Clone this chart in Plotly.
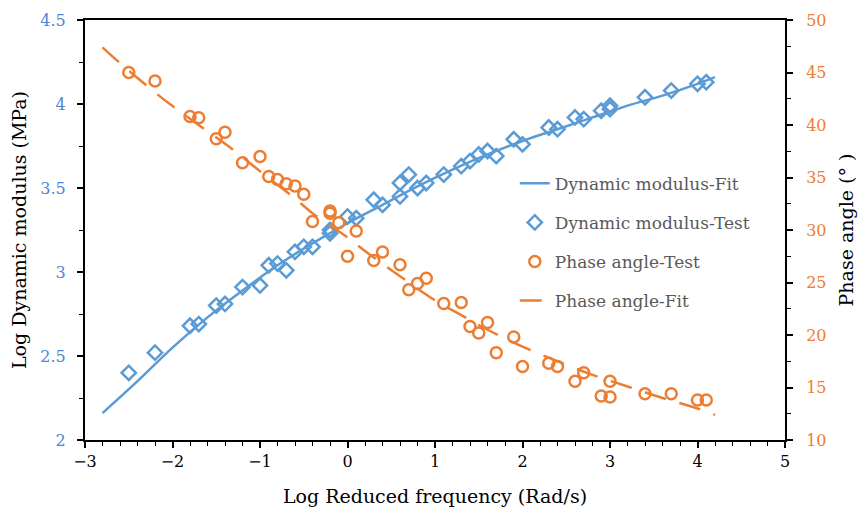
import plotly.graph_objects as go

# ---- data ----
mod_test_x = [-2.5, -2.2, -1.8, -1.7, -1.5, -1.4, -1.2, -1.0, -0.9, -0.8, -0.7, -0.6, -0.5, -0.4,
              -0.2, -0.2, 0.0, 0.1, 0.3, 0.4, 0.6, 0.6, 0.7, 0.8, 0.9, 1.1, 1.3, 1.4, 1.5, 1.6,
              1.7, 1.9, 2.0, 2.3, 2.4, 2.6, 2.7, 2.9, 3.0, 3.0, 3.4, 3.7, 4.0, 4.1]
mod_test_y = [2.40, 2.52, 2.68, 2.69, 2.80, 2.81, 2.91, 2.92, 3.04, 3.05, 3.01, 3.12, 3.15, 3.15,
              3.23, 3.25, 3.33, 3.32, 3.43, 3.40, 3.53, 3.45, 3.58, 3.50, 3.53, 3.58, 3.63, 3.66, 3.70, 3.72,
              3.69, 3.79, 3.76, 3.86, 3.85, 3.92, 3.91, 3.96, 3.99, 3.97, 4.04, 4.08, 4.12, 4.13]

mod_fit_x = [-2.8, -2.4, -2.0, -1.6, -1.2, -0.8, -0.4, 0.0, 0.4, 0.8, 1.2, 1.6, 2.0, 2.4, 2.8, 3.2, 3.6, 4.0, 4.2]
mod_fit_y = [2.16, 2.35, 2.55, 2.73, 2.89, 3.04, 3.17, 3.29, 3.40, 3.51, 3.61, 3.70, 3.78, 3.85, 3.92, 3.99, 4.05, 4.12, 4.16]

pa_test_x = [-2.5, -2.2, -1.8, -1.7, -1.5, -1.4, -1.2, -1.0, -0.9, -0.8, -0.7, -0.6, -0.5, -0.4,
             -0.2, -0.2, -0.1, 0.0, 0.1, 0.3, 0.4, 0.6, 0.7, 0.8, 0.9, 1.1, 1.3, 1.4, 1.5, 1.6,
             1.7, 1.9, 2.0, 2.3, 2.4, 2.6, 2.7, 2.9, 3.0, 3.0, 3.4, 3.7, 4.0, 4.1]
pa_test_y = [45.0, 44.2, 40.8, 40.7, 38.7, 39.3, 36.4, 37.0, 35.1, 34.8, 34.4, 34.2, 33.4, 30.8,
             31.8, 31.6, 30.7, 27.5, 29.9, 27.1, 27.9, 26.7, 24.3, 24.9, 25.4, 23.0, 23.1, 20.8, 20.2, 21.2,
             18.3, 19.8, 17.0, 17.3, 17.0, 15.6, 16.4, 14.2, 14.1, 15.6, 14.4, 14.4, 13.8, 13.8]

pa_fit_x = [-2.8, -2.6, -2.2, -2.0, -1.6, -1.3, -1.0, -0.6, -0.4, 0.0, 0.2, 0.6, 1.0, 1.3, 1.6, 2.0, 2.4, 2.8, 3.2, 3.6, 4.0, 4.2]
pa_fit_y = [47.4, 45.9, 43.1, 41.8, 39.4, 37.6, 35.6, 33.0, 31.6, 29.3, 28.0, 25.6, 23.3, 21.9, 20.5, 18.9, 17.5, 16.2, 15.1, 14.0, 13.0, 12.4]

BLUE = "#5B9BD5"
ORANGE = "#ED7D31"
FONT = "DejaVu Serif"

fig = go.Figure()
fig.add_trace(go.Scatter(x=mod_fit_x, y=mod_fit_y, mode="lines", name="Dynamic modulus-Fit",
                         line=dict(color=BLUE, width=2.5, shape="spline"), legendgroup="a"))
fig.add_trace(go.Scatter(x=mod_test_x, y=mod_test_y, mode="markers", name="Dynamic modulus-Test",
                         marker=dict(symbol="diamond-open", size=11, color=BLUE, line=dict(width=2.5)),
                         legendgroup="b"))
fig.add_trace(go.Scatter(x=pa_test_x, y=pa_test_y, mode="markers", name="Phase angle-Test", yaxis="y2",
                         marker=dict(symbol="circle-open", size=11, color=ORANGE, line=dict(width=2.5)),
                         legendgroup="c"))
fig.add_trace(go.Scatter(x=pa_fit_x, y=pa_fit_y, mode="lines", name="Phase angle-Fit", yaxis="y2",
                         line=dict(color=ORANGE, width=2.5, dash="22px,14px", shape="spline"),
                         legendgroup="d"))

fig.update_layout(
    width=860, height=515,
    margin=dict(l=85, r=75, t=20, b=75),
    paper_bgcolor="white", plot_bgcolor="white",
    font=dict(family=FONT, size=16, color="#000000"),
    showlegend=True,
    legend=dict(x=0.614, y=0.653, xanchor="left", yanchor="top", bgcolor="rgba(0,0,0,0)",
                font=dict(family=FONT, size=17, color="#595959"), traceorder="grouped",
                tracegroupgap=14),
    xaxis=dict(range=[-3, 5], dtick=1, tick0=0, showline=True, linecolor="black", linewidth=2,
               mirror=True, ticks="outside", ticklen=6, tickwidth=1.5, tickcolor="black",
               showgrid=False, zeroline=False, automargin=False,
               minor=dict(dtick=0.2, ticks="outside", ticklen=4, tickcolor="black", tickwidth=1.2, showgrid=False),
               tickfont=dict(family=FONT, size=16, color="#000000"),
               title=dict(text="Log Reduced frequency (Rad/s)", font=dict(family=FONT, size=19), standoff=19)),
    yaxis=dict(range=[2, 4.5], dtick=0.5, tick0=2, showline=True, linecolor="black", linewidth=2,
               ticks="outside", ticklen=6, tickwidth=1.5, tickcolor="black", ticklabelstandoff=8,
               showgrid=False, zeroline=False, automargin=False,
               minor=dict(dtick=0.25, ticks="outside", ticklen=4, tickcolor="black", tickwidth=1.2, showgrid=False),
               tickfont=dict(family=FONT, size=16, color="#4E86D6"),
               title=dict(text="Log Dynamic modulus (MPa)", font=dict(family=FONT, size=19), standoff=9)),
    yaxis2=dict(range=[10, 50], dtick=5, tick0=10, overlaying="y", side="right", showline=True,
                linecolor="black", linewidth=2, ticks="outside", ticklen=6, tickwidth=1.5, tickcolor="black",
                ticklabelstandoff=10, showgrid=False, zeroline=False, automargin=False,
                minor=dict(dtick=2.5, ticks="outside", ticklen=4, tickcolor="black", tickwidth=1.2, showgrid=False),
                tickfont=dict(family=FONT, size=16, color=ORANGE),
                title=dict(text="Phase angle (° )", font=dict(family=FONT, size=19), standoff=14)),
)

fig.write_html("out.html")
